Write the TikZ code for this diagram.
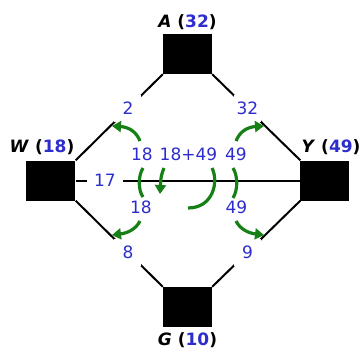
\documentclass[tikz,border=0pt]{standalone}
\usepackage{fontspec}
\setmainfont{DejaVu Sans}
\usepackage{xcolor}
\usetikzlibrary{arrows.meta}
\definecolor{valblue}{RGB}{45,45,205}
\definecolor{flowgreen}{RGB}{22,128,22}

\begin{document}
\begin{tikzpicture}[x=1pt,y=-1pt,
  font=\fontsize{17}{20}\selectfont,
  site/.style={rectangle,fill=black,minimum width=49pt,minimum height=40pt,inner sep=0pt},
  sitename/.style={anchor=base,font=\fontsize{17}{20}\selectfont\bfseries},
  val/.style={anchor=base,text=valblue},
  lbl/.style={fill=white,text=valblue,minimum size=27pt,inner sep=0pt,pos=0.4},
  road/.style={line width=2pt,black},
  flow/.style={line width=3.2pt,flowgreen},
  tip/.style={-{Triangle[length=9pt,width=11pt]}}]
\useasboundingbox (0,0) rectangle (360,351);
% sites
\node[site] (A) at (187.5,54) {};
\node[site] (W) at (51,180.5) {};
\node[site] (Y) at (325,180.5) {};
\node[site] (G) at (187.5,307) {};
\node[sitename] (nA) at (187.5,27) {\textit{A} (\textcolor{valblue}{32})};
\node[sitename] (nW) at (42,152) {\textit{W} (\textcolor{valblue}{18})};
\node[sitename] (nY) at (331,152) {\textit{Y} (\textcolor{valblue}{49})};
\node[sitename] (nG) at (187.5,345) {\textit{G} (\textcolor{valblue}{10})};
% roads
\foreach \u/\v/\t in {A.south west/W.north east/2,A.south east/Y.north west/32,
  G.north west/W.south east/8,G.north east/Y.south west/9}
  \draw[road] (\u) -- node[lbl] {\t} (\v);
\draw[road] (W.east) -- node[lbl,pos=0.13,minimum width=36pt,minimum height=20pt] {17} (Y.west);
% flows
\node[val] (f18a) at (142,160) {18};
\node[val] (fsum) at (188.5,160) {18+49};
\node[val] (f49a) at (236,160) {49};
\node[val] (f18b) at (141,213) {18};
\node[val] (f49b) at (236.5,213) {49};
\draw[flow,tip] (140,141) .. controls (136,131) and (128,127) .. (112,126);
\draw[flow,tip] (140,221) .. controls (136,229) and (128,233) .. (112,235);
\draw[flow,tip] (236,141) .. controls (240,131) and (248,127) .. (264,126);
\draw[flow,tip] (236,221) .. controls (240,229) and (248,233) .. (264,235);
\draw[flow] (143,168) .. controls (138,176) and (138,190) .. (143,197);
\draw[flow] (233,168) .. controls (238,176) and (238,190) .. (233,198);
\draw[flow,tip] (164,168) .. controls (161,176) .. (160,194);
\draw[flow] (212,168) .. controls (219,182) and (213,208) .. (188,208);
\end{tikzpicture}
\end{document}
